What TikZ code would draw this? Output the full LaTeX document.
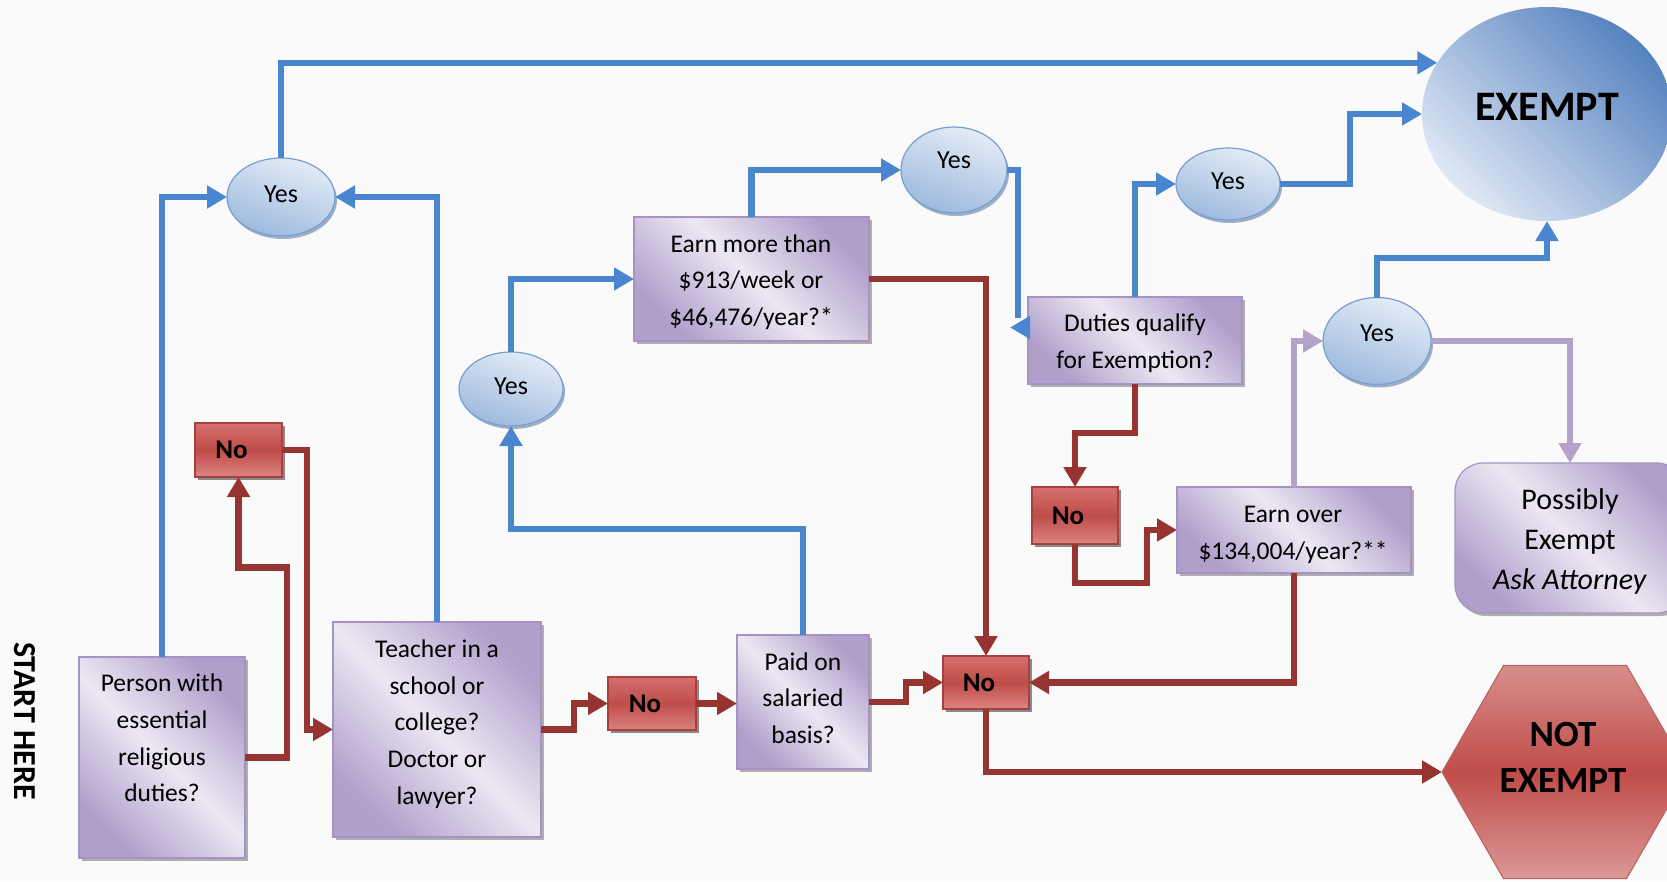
\documentclass[tikz,border=0pt]{standalone}
\usepackage{fontspec}
\setmainfont{Carlito}
\usetikzlibrary{arrows.meta,shapes.geometric,shadows,calc}

\definecolor{bgc}{RGB}{250,250,250}
\definecolor{blueln}{RGB}{74,134,207}
\definecolor{redln}{RGB}{150,52,50}
\definecolor{lavln}{RGB}{180,162,202}
\definecolor{purpdark}{RGB}{176,158,203}
\definecolor{purplight}{RGB}{236,232,242}
\definecolor{purpborder}{RGB}{165,148,195}
\definecolor{yeslight}{RGB}{228,236,247}
\definecolor{yesdark}{RGB}{156,185,221}
\definecolor{yesborder}{RGB}{120,158,206}
\definecolor{yesshadow}{RGB}{95,125,165}
\definecolor{exlight}{RGB}{224,232,244}
\definecolor{exdark}{RGB}{86,130,192}
\definecolor{notop}{RGB}{212,112,110}
\definecolor{nomid}{RGB}{191,76,73}
\definecolor{nobot}{RGB}{218,132,129}
\definecolor{noborder}{RGB}{170,64,62}
\definecolor{hextop}{RGB}{216,142,140}
\definecolor{hexbot}{RGB}{220,152,150}

\begin{document}
\begin{tikzpicture}[x=1pt,y=-1pt,
  qbox/.style={draw=purpborder, line width=1.2pt, inner sep=0pt, outer sep=0pt,
    top color=purpdark, bottom color=purpdark, middle color=purplight, shading angle=-45,
    drop shadow={shadow xshift=3pt,shadow yshift=-3pt,fill=black,opacity=0.3}},
  nobox/.style={draw=noborder, line width=1.2pt, inner sep=0pt, outer sep=0pt,
    top color=notop, bottom color=nobot, middle color=nomid,
    font=\bfseries\fontsize{27}{30}\selectfont,
    execute at begin node={\hspace*{-14pt}},
    drop shadow={shadow xshift=3pt,shadow yshift=-3pt,fill=black,opacity=0.45}},
  yesnode/.style={ellipse, draw=yesborder, line width=1.2pt, inner sep=0pt, outer sep=0pt,
    left color=yeslight, right color=yesdark, shading angle=-20,
    font=\fontsize{26}{30}\selectfont, text depth=6pt,
    drop shadow={shadow xshift=2pt,shadow yshift=-3pt,fill=yesshadow,opacity=0.6}},
  body/.style={align=center, inner sep=0pt, font=\fontsize{25.5}{36.7}\selectfont},
  bigbody/.style={align=center, inner sep=0pt, font=\fontsize{30}{40}\selectfont},
  bluearr/.style={draw=blueln, line width=6.5pt, line join=miter, -{Triangle[length=20pt,width=22pt]}},
  blueplain/.style={draw=blueln, line width=6.5pt, line join=miter},
  redarr/.style={draw=redln, line width=6.5pt, line join=miter, -{Triangle[length=20pt,width=22pt]}},
  lavarr/.style={draw=lavln, line width=6.5pt, line join=miter, -{Triangle[length=20pt,width=22pt]}}
]
\fill[bgc] (0,0) rectangle (1667,881);
\useasboundingbox (0,0) rectangle (1667,881);

% start label
\node[rotate=-90, font=\bfseries\fontsize{32}{32}\selectfont, inner sep=0pt] (start) at (25,721) {START HERE};

% question boxes
\node[qbox, minimum width=166pt, minimum height=201pt] (person) at (162,757.5) {};
\node[qbox, minimum width=208pt, minimum height=215pt] (teacher) at (437,729.5) {};
\node[qbox, minimum width=235pt, minimum height=124pt] (earn1) at (751.5,279) {};
\node[qbox, minimum width=132pt, minimum height=134pt] (paid) at (803,702) {};
\node[qbox, minimum width=214pt, minimum height=87pt] (duties) at (1135,340.5) {};
\node[qbox, minimum width=234pt, minimum height=86pt] (earn2) at (1294,530) {};
\node[qbox, rounded corners=28pt, minimum width=230pt, minimum height=150pt] (possibly) at (1570,538) {};

\node[body] (tperson) at (162,738) {Person with\\essential\\religious\\duties?};
\node[body] (tteacher) at (437,724) {Teacher in a\\school or\\college?\\Doctor or\\lawyer?};
\node[body] (tearn1) at (751,282) {Earn more than\\\$913/week or\\\$46,476/year?*};
\node[body] (tpaid) at (803,698) {Paid on\\salaried\\basis?};
\node[body] (tduties) at (1135,343) {Duties qualify\\for Exemption?};
\node[body] (tearn2) at (1293,535) {Earn over\\\$134,004/year?**};
\node[bigbody] (tposs) at (1570,541) {Possibly\\Exempt\\\textit{Ask Attorney}};

% No boxes
\node[nobox, minimum width=87pt, minimum height=54pt] (no1) at (238.5,450) {No};
\node[nobox, minimum width=88pt, minimum height=53pt] (no2) at (652,703.5) {No};
\node[nobox, minimum width=86pt, minimum height=53pt] (no3) at (986,682.5) {No};
\node[nobox, minimum width=86pt, minimum height=57pt] (no4) at (1075,515.5) {No};

% Yes ellipses
\node[yesnode, minimum width=108pt, minimum height=78pt] (yes1) at (281,197) {Yes};
\node[yesnode, minimum width=104pt, minimum height=74pt] (yes2) at (511,389) {Yes};
\node[yesnode, minimum width=106pt, minimum height=86pt, text depth=19pt] (yes3) at (954,170) {Yes};
\node[yesnode, minimum width=104pt, minimum height=72pt] (yes4) at (1228,184) {Yes};
\node[yesnode, minimum width=108pt, minimum height=87pt, text depth=16pt] (yes5) at (1377,341) {Yes};

% outcomes
\node[ellipse, inner sep=0pt, outer sep=0pt, minimum width=250pt, minimum height=214pt,
  top color=exdark, bottom color=exlight, shading angle=-45, text depth=14pt,
  font=\bfseries\fontsize{42}{46}\selectfont] (exempt) at (1547,114) {EXEMPT};
\node[regular polygon, regular polygon sides=6, minimum size=246pt, inner sep=0pt, outer sep=0pt,
  draw=noborder!80, line width=1.2pt, top color=hextop, bottom color=hexbot, middle color=nomid] (notex) at (1565,772) {};
\node[align=center, inner sep=0pt, font=\bfseries\fontsize{37}{46}\selectfont] (tnotex) at (1563,757) {NOT\\EXEMPT};

% blue connectors
\draw[bluearr] (person.north) |- (yes1.west);
\draw[bluearr] (teacher.north) |- (yes1.east);
\draw[bluearr] (yes1.north) |- (exempt.155);
\draw[bluearr] (yes2.north) |- (earn1.west);
\draw[bluearr] (paid.north) -- ++(0,-106) -| (yes2.south);
\draw[bluearr] (earn1.north) |- (yes3.west);
\draw[blueplain] (yes3.east) -- ++(11,0) -- ++(0,148);
\draw[bluearr] ([xshift=2pt,yshift=13pt]duties.west) -- ++(-20,0);
\draw[bluearr] (duties.north) |- (yes4.west);
\draw[bluearr] (yes4.east) -- ++(70,0) |- (exempt.west);
\draw[bluearr] (yes5.north) |- ([yshift=-37pt]exempt.south) -- (exempt.south);

% lavender connectors
\draw[lavarr] (earn2.north) |- (yes5.west);
\draw[lavarr] (yes5.east) -| (possibly.north);

% red connectors
\draw[redarr] (person.east) -| ++(42,-190) -| (no1.south);
\draw[redarr] (no1.east) -- ++(25,0) |- (teacher.west);
\draw[redarr] (teacher.east) -- ++(33,0) |- (no2.west);
\draw[redarr] (no2.east) -- (no2.east -| paid.west);
\draw[redarr] (paid.east) -- ++(37,0) |- (no3.west);
\draw[redarr] (earn1.east) -| (no3.north);
\draw[redarr] (earn2.south) |- (no3.east);
\draw[redarr] (no3.south) |- (notex.west);
\draw[redarr] (duties.south) -- ++(0,49) -| (no4.north);
\draw[redarr] (no4.south) |- ++(72,39) |- (earn2.west);
\end{tikzpicture}
\end{document}
